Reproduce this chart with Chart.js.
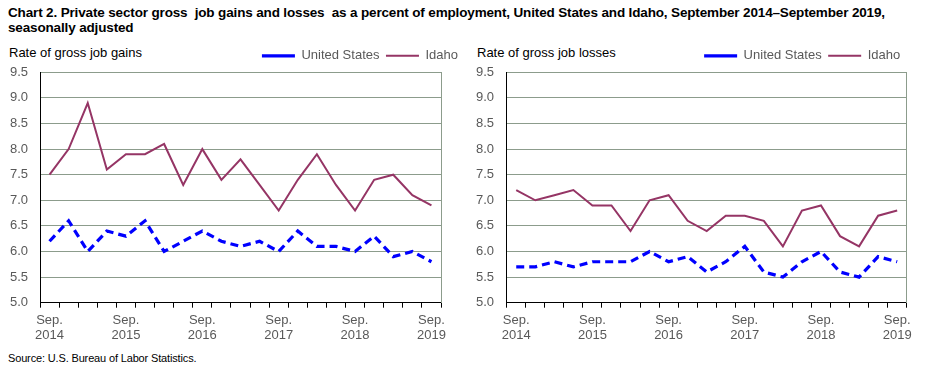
<!DOCTYPE html>
<html>
<head>
<meta charset="utf-8">
<script src="https://cdn.jsdelivr.net/npm/chart.js@4/dist/chart.umd.min.js"></script>
<style>
  html, body { margin: 0; padding: 0; background: #fff; }
  body { width: 930px; height: 372px; position: relative; overflow: hidden; font-family: "Liberation Sans", Arial, sans-serif; }
  #title { position: absolute; left: 8px; top: 5px; width: 922px; font-family: "Liberation Sans", Arial, sans-serif; font-weight: bold; font-size: 13.5px; line-height: 15px; letter-spacing: -0.15px; color: #000; white-space: nowrap; }
  .ytitle { position: absolute; top: 45px; font-size: 13px; color: #000; white-space: nowrap; }
  .wrap { position: absolute; top: 40px; width: 465px; height: 305px; }
  #source { position: absolute; left: 8px; top: 352px; font-size: 11px; color: #000; letter-spacing: -0.15px; }
</style>
</head>
<body>
<div id="title">Chart 2. Private sector gross&nbsp; job gains and losses&nbsp; as a percent of employment, United States and Idaho, September 2014–September 2019,<br>seasonally adjusted</div>
<div class="ytitle" style="left:9px">Rate of gross job gains</div>
<div class="ytitle" style="left:477px">Rate of gross job losses</div>
<div class="wrap" style="left:0px"><canvas id="c1" width="465" height="305"></canvas></div>
<div class="wrap" style="left:465px"><canvas id="c2" width="465" height="305"></canvas></div>
<div id="source">Source: U.S. Bureau of Labor Statistics.</div>
<script>
const quarters = [
  "Sep. 2014","Dec. 2014","Mar. 2015","Jun. 2015",
  "Sep. 2015","Dec. 2015","Mar. 2016","Jun. 2016",
  "Sep. 2016","Dec. 2016","Mar. 2017","Jun. 2017",
  "Sep. 2017","Dec. 2017","Mar. 2018","Jun. 2018",
  "Sep. 2018","Dec. 2018","Mar. 2019","Jun. 2019",
  "Sep. 2019"
];
const gainsUS    = [6.2, 6.6, 6.0, 6.4, 6.3, 6.6, 6.0, 6.2, 6.4, 6.2, 6.1, 6.2, 6.0, 6.4, 6.1, 6.1, 6.0, 6.3, 5.9, 6.0, 5.8];
const gainsIdaho = [7.5, 8.0, 8.9, 7.6, 7.9, 7.9, 8.1, 7.3, 8.0, 7.4, 7.8, 7.3, 6.8, 7.4, 7.9, 7.3, 6.8, 7.4, 7.5, 7.1, 6.9];
const lossesUS    = [5.7, 5.7, 5.8, 5.7, 5.8, 5.8, 5.8, 6.0, 5.8, 5.9, 5.6, 5.8, 6.1, 5.6, 5.5, 5.8, 6.0, 5.6, 5.5, 5.9, 5.8];
const lossesIdaho = [7.2, 7.0, 7.1, 7.2, 6.9, 6.9, 6.4, 7.0, 7.1, 6.6, 6.4, 6.7, 6.7, 6.6, 6.1, 6.8, 6.9, 6.3, 6.1, 6.7, 6.8];
const seriesNames = ["United States", "Idaho"];
const yMin = 5.0, yMax = 9.5, yStep = 0.5;

const FONT = "'Liberation Sans', Arial, sans-serif";
const TICK_COLOR = "#595959";
const GRID_COLOR = "#8c9c8c";
const US_COLOR = "#0000ff";
const ID_COLOR = "#953565";

function makeChart(id, usData, idData, cfg) {
  return new Chart(document.getElementById(id), {
    type: 'line',
    data: {
      labels: quarters,
      datasets: [
        { label: seriesNames[0], data: usData, borderColor: US_COLOR, backgroundColor: US_COLOR,
          borderWidth: 3.2, borderDash: [8, 5], pointRadius: 0, tension: 0, fill: false },
        { label: seriesNames[1], data: idData, borderColor: ID_COLOR, backgroundColor: ID_COLOR,
          borderWidth: 2, pointRadius: 0, tension: 0, fill: false }
      ]
    },
    options: {
      responsive: false,
      animation: false,
      devicePixelRatio: 1,
      layout: { padding: { left: 0, right: cfg.padRight, top: 0, bottom: 0 } },
      plugins: {
        tooltip: { enabled: false },
        legend: {
          display: true, position: 'top', align: 'end', fullSize: cfg.fullSize,
          labels: {
            usePointStyle: true, pointStyle: 'line', pointStyleWidth: 33,
            padding: 6.5, color: TICK_COLOR, font: { family: FONT, size: 13 }
          }
        }
      },
      scales: {
        x: {
          type: 'category', offset: true,
          grid: { display: true, drawOnChartArea: false, drawTicks: true, tickLength: 5, offset: true, color: '#000' },
          border: { display: true, color: '#000', width: 1 },
          ticks: {
            autoSkip: false, maxRotation: 0, minRotation: 0, padding: 6,
            color: TICK_COLOR, font: { family: FONT, size: 13, lineHeight: 1.1 },
            callback: function(v, i) { const l = quarters[i]; return l.startsWith("Sep.") ? l.split(" ") : ""; }
          },
          afterFit: function(s) { s.height = cfg.xHeight; }
        },
        y: {
          position: 'left', min: yMin, max: yMax,
          grid: { color: GRID_COLOR, drawTicks: false, lineWidth: 1 },
          border: { display: true, color: '#000', width: 1 },
          ticks: { stepSize: yStep, padding: cfg.yPad, color: TICK_COLOR, font: { family: FONT, size: 13 },
                   callback: v => Number(v).toFixed(1) },
          afterFit: function(s) { s.width = cfg.yWidth; s.paddingTop = cfg.top; }
        },
        y2: {
          position: 'right', min: yMin, max: yMax,
          grid: { drawOnChartArea: false, drawTicks: false },
          border: { display: true, color: GRID_COLOR, width: 1 },
          ticks: { display: false },
          afterFit: function(s) { s.width = cfg.y2Width; }
        }
      }
    }
  });
}

makeChart('c1', gainsUS, gainsIdaho, { padRight: 0.5, fullSize: true, xHeight: 42.3, yWidth: 40, yPad: 12, y2Width: 23.5, top: 32.3 });
makeChart('c2', lossesUS, lossesIdaho, { padRight: 0, fullSize: false, xHeight: 42.3, yWidth: 41.7, yPad: 12.7, y2Width: 23.3, top: 32.3 });
</script>
</body>
</html>
